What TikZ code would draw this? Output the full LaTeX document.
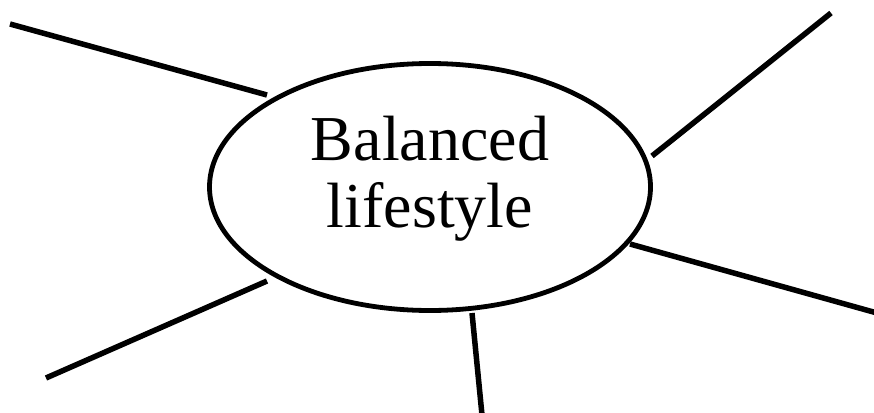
\documentclass[tikz,border=0pt]{standalone}
\usepackage{fontspec}
\setmainfont{Liberation Serif}
\usetikzlibrary{shapes.geometric}
\tikzset{
  spoke/.style={line width=5.5pt},
  hub/.style={ellipse, draw, line width=4.8pt, minimum width=441pt, minimum height=247pt, inner sep=0pt},
  lbl/.style={anchor=base, inner sep=0pt, font=\fontsize{64}{67}\selectfont}
}
\begin{document}
\begin{tikzpicture}[x=1pt,y=-1pt]
\useasboundingbox (0,0) rectangle (874,412);
\node[hub] (e) at (430,187) {};
\node[lbl] (t1) at (430,160) {Balanced};
\node[lbl] (t2) at (430,227) {lifestyle};
\coordinate (a1) at (10,24);  \coordinate (a2) at (267,95);
\coordinate (b1) at (652,156); \coordinate (b2) at (831,13);
\coordinate (c1) at (630,244); \coordinate (c2) at (877,313);
\coordinate (d1) at (267,281); \coordinate (d2) at (46,378);
\coordinate (f1) at (472,313); \coordinate (f2) at (482,415);
\draw[spoke] (a1) -- (a2);
\draw[spoke] (b1) -- (b2);
\draw[spoke] (c1) -- (c2);
\draw[spoke] (d1) -- (d2);
\draw[spoke] (f1) -- (f2);
\end{tikzpicture}
\end{document}
